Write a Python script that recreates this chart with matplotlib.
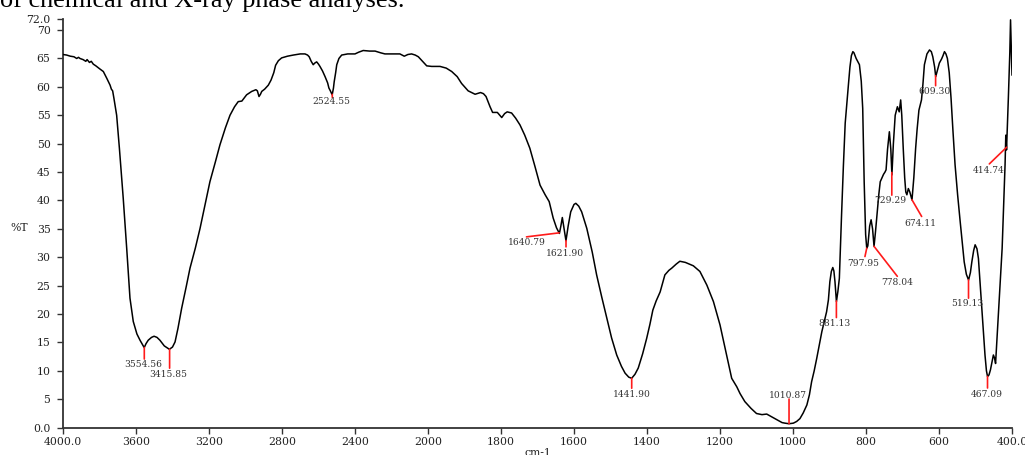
import numpy as np
import matplotlib
matplotlib.use("Agg")
import matplotlib.pyplot as plt

# ---- data ----
wavenumber = [
    4000, 3980, 3960, 3940, 3925, 3915, 3907, 3890, 3875, 3868, 3855, 3845, 3834, 3820, 3800,
    3779, 3760, 3742, 3735, 3728, 3721, 3706, 3691, 3670, 3651, 3633, 3615, 3595, 3578, 3555,
    3545, 3533, 3515, 3501, 3485, 3469, 3445, 3417, 3400, 3386, 3370, 3350, 3325, 3304, 3275,
    3249, 3220, 3195, 3165, 3140, 3110, 3085, 3060, 3040, 3020, 2994, 2966, 2943, 2935, 2926,
    2918, 2911, 2895, 2875, 2860, 2845, 2835, 2820, 2802, 2770, 2738, 2700, 2674, 2660, 2651,
    2640, 2629, 2620, 2610, 2600, 2592, 2578, 2564, 2550, 2543, 2535, 2525, 2518, 2514, 2506,
    2500, 2488, 2473, 2440, 2400, 2380, 2355, 2320, 2290, 2260, 2236, 2190, 2154, 2130, 2110,
    2090, 2070, 2053, 2030, 2007, 1990, 1967, 1950, 1935, 1920, 1908, 1890, 1871, 1856, 1848,
    1841, 1830, 1823, 1810, 1798, 1790, 1783, 1771, 1760, 1748, 1735, 1721, 1707, 1693, 1679,
    1668, 1657, 1648, 1640, 1636, 1632, 1627, 1622, 1616, 1609, 1600, 1595, 1587, 1579, 1565,
    1550, 1538, 1524, 1510, 1497, 1483, 1470, 1460, 1450, 1442, 1433, 1424, 1412, 1401, 1392,
    1384, 1375, 1364, 1351, 1340, 1332, 1320, 1310, 1295, 1273, 1255, 1236, 1218, 1200, 1182,
    1168, 1154, 1145, 1132, 1115, 1100, 1085, 1072, 1058, 1044, 1030, 1022, 1011, 999, 990,
    981, 972, 962, 955, 949, 942, 935, 928, 921, 915, 908, 903, 899, 895, 891,
    888, 885, 881, 877, 873, 867, 862, 857, 852, 848, 844, 840, 836, 833, 827,
    818, 813, 809, 805, 801, 798, 795, 790, 786, 782, 778, 774, 770, 765, 761,
    752, 748, 745, 741, 736, 732, 729, 725, 720, 714, 709, 705, 702, 698, 694,
    691, 688, 684, 680, 674, 669, 664, 660, 655, 648, 644, 640, 633, 626, 621,
    617, 612, 609, 604, 599, 593, 589, 585, 581, 577, 572, 567, 562, 556, 549,
    542, 536, 531, 525, 519, 514, 510, 505, 501, 496, 492, 487, 483, 478, 474,
    470, 467, 463, 459, 455, 451, 448, 445, 440, 435, 431, 427, 423, 419, 417,
    416, 415, 410, 406, 404, 402, 400,
]
transmittance = [
    65.7, 65.6, 65.4, 65.3, 65.0, 65.2, 65.0, 64.8, 64.5, 64.8, 64.3, 64.5, 64.0, 63.7, 63.2,
    62.7, 61.5, 60.3, 59.6, 59.3, 58.0, 55.0, 49.2, 40.4, 31.6, 22.8, 18.7, 16.5, 15.4, 14.1,
    14.8, 15.4, 15.9, 16.1, 15.9, 15.4, 14.4, 13.8, 14.2, 15.1, 17.5, 21.0, 24.8, 28.1, 31.6,
    35.1, 39.5, 43.3, 46.8, 49.8, 52.8, 55.0, 56.5, 57.4, 57.5, 58.6, 59.2, 59.5, 59.3, 58.3,
    58.7, 59.2, 59.6, 60.3, 61.2, 62.5, 63.8, 64.6, 65.1, 65.4, 65.6, 65.8, 65.8, 65.6, 65.3,
    64.5, 63.9, 64.2, 64.4, 64.0, 63.6, 62.8, 61.8, 60.7, 59.8, 59.3, 58.6, 59.8, 60.9, 62.5,
    63.9, 65.0, 65.6, 65.8, 65.8, 66.1, 66.4, 66.3, 66.3, 66.0, 65.8, 65.8, 65.8, 65.4, 65.7,
    65.8, 65.6, 65.3, 64.5, 63.7, 63.6, 63.6, 63.3, 62.7, 61.8, 60.6, 59.3, 58.7, 59.0, 58.8,
    58.3, 56.5, 55.5, 55.5, 54.6, 55.3, 55.6, 55.4, 54.5, 53.3, 51.5, 49.2, 46.0, 42.7, 41.0,
    39.8, 36.9, 35.2, 34.2, 35.5, 37.0, 35.0, 32.9, 35.5, 38.0, 39.3, 39.5, 39.0, 38.0, 35.1,
    30.9, 26.9, 23.0, 19.3, 15.8, 12.8, 10.8, 9.6, 8.9, 8.7, 9.4, 10.5, 13.0, 15.7, 18.2,
    20.7, 22.3, 23.9, 26.9, 27.7, 28.1, 28.8, 29.3, 29.1, 28.5, 27.5, 25.1, 22.2, 18.1, 12.8,
    8.7, 7.2, 6.0, 4.6, 3.4, 2.5, 2.3, 2.4, 1.9, 1.4, 0.9, 0.8, 0.7, 0.8, 1.1,
    1.6, 2.6, 4.0, 5.8, 8.1, 10.0, 12.2, 14.5, 16.9, 18.5, 20.4, 22.5, 25.7, 27.5, 28.2,
    27.6, 25.7, 22.2, 24.0, 26.3, 37.4, 46.0, 53.6, 57.5, 60.5, 63.5, 65.5, 66.2, 66.0, 65.0,
    63.9, 61.0, 56.2, 43.3, 34.0, 31.6, 32.0, 35.5, 36.6, 35.0, 31.9, 34.5, 37.4, 41.0, 43.3,
    44.6, 45.0, 45.4, 49.0, 52.1, 49.0, 44.5, 50.0, 55.0, 56.5, 55.6, 57.7, 55.0, 49.2, 44.0,
    41.5, 41.0, 42.1, 41.5, 40.1, 44.0, 49.2, 52.5, 55.9, 57.7, 60.5, 63.9, 65.8, 66.5, 66.2,
    65.3, 63.5, 61.8, 63.0, 64.2, 64.9, 65.5, 66.2, 65.8, 65.0, 62.5, 58.0, 52.5, 46.3, 41.0,
    36.3, 32.5, 29.2, 27.0, 26.0, 27.3, 29.2, 31.2, 32.2, 31.5, 29.8, 25.0, 21.0, 16.5, 12.8,
    10.0, 9.0, 9.3, 10.2, 11.5, 12.8, 12.3, 11.3, 17.0, 22.8, 27.0, 31.6, 39.0, 46.3, 51.5,
    50.5, 48.9, 58.0, 66.0, 71.8, 67.0, 62.1,
]

peak_labels = ["3554.56", "3415.85", "2524.55", "1640.79", "1621.90", "1441.90",
               "1010.87", "881.13", "797.95", "778.04", "729.29", "674.11",
               "609.30", "519.13", "467.09", "414.74"]

x_ticks = [4000, 3600, 3200, 2800, 2400, 2000, 1800, 1600, 1400, 1200, 1000, 800, 600, 400]
x_tick_labels = ["4000.0", "3600", "3200", "2800", "2400", "2000", "1800", "1600",
                 "1400", "1200", "1000", "800", "600", "400.0"]
y_ticks = [0, 5, 10, 15, 20, 25, 30, 35, 40, 45, 50, 55, 60, 65, 70, 72]
y_tick_labels = ["0.0", "5", "10", "15", "20", "25", "30", "35", "40", "45", "50",
                 "55", "60", "65", "70", "72.0"]

# label layout (offset pixels from the peak): red line end, text centre
line_off = [(0, -11.6), (0, -19), (0, -3), (-32.6, -4), (0, -6.3), (0, -10),
            (0, 24.7), (0, -16.6), (-1.8, -8.4), (23.3, -30), (0, -22.7), (9.7, -16.7),
            (0, -10), (0, -18.3), (0, -11.6), (-17.3, -16.7)]
text_off = [(-1, -17.3), (-1, -25), (-1, -7.5), (-32, -10), (-1.3, -13), (0, -16.7),
            (-0.7, 28), (-1.4, -22.3), (-3.5, -15), (22.7, -36.6), (-1.3, -28.3), (8, -23.3),
            (-1.6, -15.6), (-1.7, -24), (-0.8, -18.3), (-18, -23.3)]

# ---- figure ----
W, H, DPI = 1025, 455, 100
fig = plt.figure(figsize=(W / DPI, H / DPI), dpi=DPI)
ax = fig.add_axes([63 / W, (H - 427.7) / H, 949 / W, 409 / H])


def fwd(x):
    x = np.asarray(x, dtype=float)
    return np.where(x > 2000, 2000 + (x - 2000) / 2.0, x)


def inv(u):
    u = np.asarray(u, dtype=float)
    return np.where(u > 2000, 2000 + (u - 2000) * 2.0, u)


ax.set_xscale("function", functions=(fwd, inv))

wn = np.array(wavenumber, dtype=float)
tr = np.array(transmittance, dtype=float)
ax.plot(wn, tr, color="black", lw=1.1, zorder=3)

ax.set_xlim(4000, 400)
ax.set_ylim(0, 72)

ax.set_xticks(x_ticks)
ax.set_xticklabels(x_tick_labels)
ax.set_yticks(y_ticks)
ax.set_yticklabels(y_tick_labels)
ax.minorticks_off()

for lab in ax.get_xticklabels() + ax.get_yticklabels():
    lab.set_fontfamily("DejaVu Serif")
    lab.set_fontsize(7.8)
    lab.set_color("#222222")

ax.tick_params(axis="both", direction="out", length=4, width=1, color="#333333", pad=3)
ax.tick_params(axis="y", pad=5)

for s in ["top", "right"]:
    ax.spines[s].set_visible(False)
for s in ["left", "bottom"]:
    ax.spines[s].set_color("#333333")
    ax.spines[s].set_linewidth(1.3)

ax.set_xlabel("cm-1", fontfamily="DejaVu Serif", fontsize=7.8, color="#222222")
ax.xaxis.set_label_coords(0.5, -0.05)
ax.set_ylabel("%T", rotation=0, fontfamily="DejaVu Serif", fontsize=7.8,
              color="#222222", va="center", ha="center")
ax.yaxis.set_label_coords(-0.046, 0.488)

# peak markers
asc = np.argsort(wn)
for lab, lo, to in zip(peak_labels, line_off, text_off):
    px = float(lab)
    py = float(np.interp(px, wn[asc], tr[asc]))
    ax.annotate("", xy=(px, py), xytext=lo, textcoords="offset pixels",
                arrowprops=dict(arrowstyle="-", color="#ff1a1a", lw=1.2,
                                shrinkA=0, shrinkB=0), zorder=4)
    ax.annotate(lab, xy=(px, py), xytext=to, textcoords="offset pixels",
                ha="center", va="center", fontfamily="DejaVu Serif",
                fontsize=6.6, color="#333333", zorder=5)

# cropped caption text at the very top
fig.text(0.0, 1 - 7 / H, "of chemical and X-ray phase analyses.",
         fontfamily="Liberation Serif", fontsize=18.9, color="black",
         ha="left", va="baseline")

fig.savefig("out.png", dpi=DPI)
